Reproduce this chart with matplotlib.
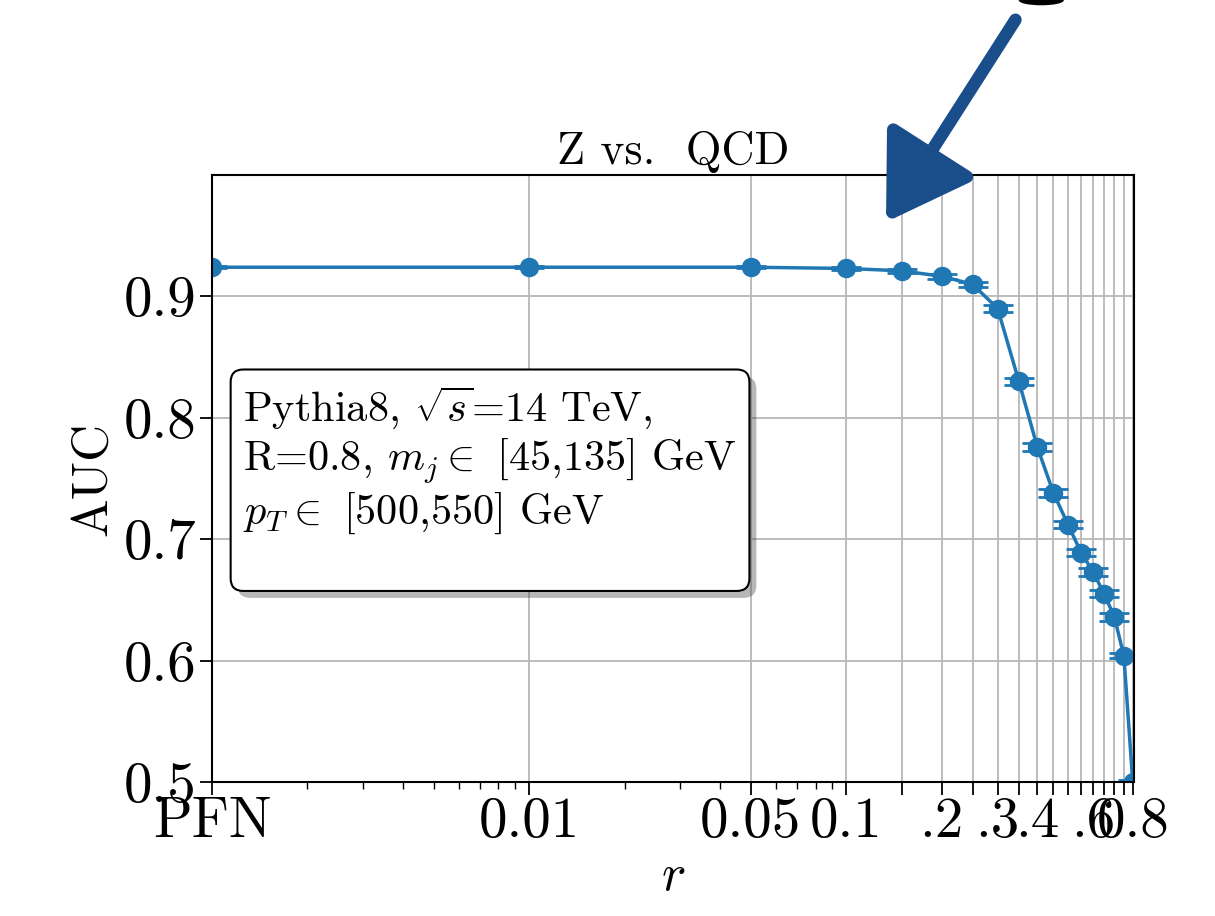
import matplotlib
matplotlib.use('Agg')
import matplotlib.pyplot as plt
import matplotlib.patheffects as pe
from matplotlib.patches import FancyArrowPatch, Ellipse

plt.rcParams['font.family'] = ['cmr10', 'DejaVu Serif']
plt.rcParams['mathtext.fontset'] = 'cm'
plt.rcParams['axes.formatter.use_mathtext'] = True

# r values (PFN placed at 1e-3 on the log axis)
r_vals = [0.001, 0.01, 0.05, 0.1, 0.15, 0.2, 0.25, 0.3, 0.35, 0.4,
          0.45, 0.5, 0.55, 0.6, 0.65, 0.7, 0.75, 0.8]
auc = [0.924, 0.924, 0.924, 0.923, 0.921, 0.9165, 0.910, 0.890, 0.830, 0.776,
       0.738, 0.712, 0.689, 0.673, 0.655, 0.636, 0.604, 0.500]
auc_err = [0.001, 0.001, 0.001, 0.001, 0.0015, 0.002, 0.002, 0.003, 0.003, 0.003,
           0.003, 0.003, 0.003, 0.003, 0.003, 0.003, 0.002, 0.002]
tick_labels = ['PFN', '0.01', '0.05', '0.1', '', '.2', '', '.3', '', '.4',
               '', '', '', '.6', '', '', '', '0.8']

fig = plt.figure(figsize=(12.15, 9.16), dpi=100)
ax = fig.add_axes([0.1745, 0.1463, 0.7585, 0.6627])

ax.errorbar(r_vals, auc, yerr=auc_err, color='#1f77b4', marker='o', markersize=13,
            linewidth=2.5, capsize=11, capthick=2, elinewidth=2, clip_on=True)

ax.set_xscale('log')
ax.set_xlim(0.001, 0.805)
ax.set_ylim(0.5, 1.0)
ax.set_xticks(r_vals)
ax.set_xticklabels(tick_labels)
ax.set_yticks([0.5, 0.6, 0.7, 0.8, 0.9])
ax.set_yticklabels(['0.5', '0.6', '0.7', '0.8', '0.9'])
ax.tick_params(axis='both', which='major', labelsize=41, length=9, width=1.3, pad=2)
ax.tick_params(axis='x', which='minor', length=5, width=1.0)
ax.grid(True, which='major', color='#b8b8b8', linewidth=1.3)
for s in ax.spines.values():
    s.set_linewidth(1.5)

ax.set_title('Z vs.  QCD', fontsize=33, pad=8)
ax.set_ylabel('AUC', fontsize=37, labelpad=6)
ax.set_xlabel('$r$', fontsize=37, labelpad=4)

info = ('Pythia8, $\\sqrt{s}$=14 TeV,\n'
        'R=0.8, $m_j\\in$ [45,135] GeV\n'
        '$p_T\\in$ [500,550] GeV\n ')
t = ax.text(0.034, 0.655, info, transform=ax.transAxes, fontsize=30.5,
            va='top', ha='left', linespacing=1.15,
            bbox=dict(boxstyle='round,pad=0.3,rounding_size=0.3', fc='white', ec='black', lw=1.5))
t.get_bbox_patch().set_path_effects([pe.SimplePatchShadow(offset=(5, -5), alpha=0.4), pe.Normal()])

# hand drawn style arrow pointing at the plot
arrow = FancyArrowPatch((0.837, 0.981), (0.728, 0.755), transform=fig.transFigure,
                        arrowstyle='-|>,head_length=0.8,head_width=0.5',
                        mutation_scale=63, color='#1a4e8a', lw=9)
fig.add_artist(arrow)
fig.add_artist(Ellipse((0.857, 1.0), 0.036, 0.01, transform=fig.transFigure,
                       color='black'))

fig.savefig('out.png', dpi=100)
